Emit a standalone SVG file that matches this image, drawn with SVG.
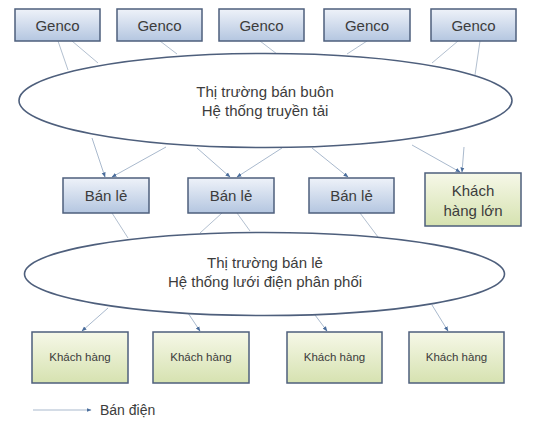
<svg xmlns="http://www.w3.org/2000/svg" width="535" height="423" viewBox="0 0 535 423">
<defs>
<linearGradient id="gb" x1="0" y1="0" x2="0" y2="1">
<stop offset="0" stop-color="#eef2f9"/>
<stop offset="1" stop-color="#b4c6e0"/>
</linearGradient>
<linearGradient id="gg" x1="0" y1="0" x2="0" y2="1">
<stop offset="0" stop-color="#f6f8e8"/>
<stop offset="1" stop-color="#d6e2b0"/>
</linearGradient>
<marker id="ah" viewBox="0 0 10 10" refX="9" refY="5" markerWidth="5" markerHeight="5" orient="auto" markerUnits="userSpaceOnUse">
<path d="M0,1 L10,5 L0,9 z" fill="#4a6d9c"/>
</marker>
</defs>
<style>
.b{fill:url(#gb);stroke:#4e5f7c;stroke-width:1.5}
.g{fill:url(#gg);stroke:#4e5f7c;stroke-width:1.5}
.e{fill:#fff;stroke:#4e5f7c;stroke-width:1.6}
.c{fill:none;stroke:#b3c0d0;stroke-width:1}
.a{fill:none;stroke:#a9b9cd;stroke-width:1;marker-end:url(#ah)}
text{font-family:"Liberation Sans",Arial,sans-serif;fill:#3c3c3c;text-anchor:middle}
.t15{font-size:15px}
.t14{font-size:15px}
.t11{font-size:11.5px}
</style>
<rect width="535" height="423" fill="#fff"/>
<g id="connectors">
<line class="c" x1="58" y1="41" x2="68" y2="70"/>
<line class="c" x1="72" y1="41" x2="98" y2="63"/>
<line class="c" x1="160" y1="41" x2="177" y2="54"/>
<line class="c" x1="260" y1="41" x2="277" y2="54"/>
<line class="c" x1="367" y1="41" x2="347" y2="54"/>
<line class="c" x1="458" y1="41" x2="432" y2="63"/>
<line class="c" x1="480" y1="41" x2="475" y2="75"/>
<line class="a" x1="92" y1="138" x2="105" y2="177"/>
<line class="a" x1="166" y1="147" x2="112" y2="177"/>
<line class="a" x1="197" y1="148" x2="230" y2="177"/>
<line class="a" x1="282" y1="148" x2="237" y2="177"/>
<line class="a" x1="312" y1="148" x2="348" y2="177"/>
<line class="a" x1="412" y1="145" x2="460" y2="172"/>
<line class="a" x1="464" y1="147" x2="462" y2="172"/>
<line class="c" x1="112" y1="213" x2="128" y2="238"/>
<line class="c" x1="222" y1="213" x2="200" y2="233"/>
<line class="c" x1="237" y1="213" x2="250" y2="231"/>
<line class="c" x1="360" y1="213" x2="378" y2="237"/>
<line class="a" x1="108" y1="308" x2="82" y2="331"/>
<line class="a" x1="188" y1="313" x2="200" y2="331"/>
<line class="a" x1="315" y1="315" x2="327" y2="331"/>
<line class="a" x1="432" y1="305" x2="448" y2="331"/>
<line class="a" x1="33" y1="410" x2="91" y2="410"/>
</g>
<g id="genco1"><rect class="b" x="15" y="9" width="85" height="32"/><text class="t15" x="57.5" y="30.5">Genco</text></g>
<g id="genco2"><rect class="b" x="117" y="9" width="85" height="32"/><text class="t15" x="159.5" y="30.5">Genco</text></g>
<g id="genco3"><rect class="b" x="219" y="9" width="85" height="32"/><text class="t15" x="261.5" y="30.5">Genco</text></g>
<g id="genco4"><rect class="b" x="324" y="9" width="86" height="32"/><text class="t15" x="367" y="30.5">Genco</text></g>
<g id="genco5"><rect class="b" x="431" y="9" width="85" height="32"/><text class="t15" x="473.5" y="30.5">Genco</text></g>
<g id="wholesale"><ellipse class="e" cx="265.5" cy="100.5" rx="246.5" ry="47"/><text class="t14" x="265" y="97">Thị trường bán buôn</text><text class="t14" x="265" y="115.5">Hệ thống truyền tải</text></g>
<g id="banle1"><rect class="b" x="63" y="178" width="86" height="35"/><text class="t14" x="106" y="201">Bán lẻ</text></g>
<g id="banle2"><rect class="b" x="188" y="178" width="86" height="35"/><text class="t14" x="231" y="201">Bán lẻ</text></g>
<g id="banle3"><rect class="b" x="309" y="178" width="85" height="35"/><text class="t14" x="351.5" y="201">Bán lẻ</text></g>
<g id="khachhanglon"><rect class="g" x="425" y="173" width="96" height="53"/><text class="t14" x="473" y="196">Khách</text><text class="t14" x="473" y="216">hàng lớn</text></g>
<g id="retail"><ellipse class="e" cx="264.5" cy="274" rx="240" ry="41.5"/><text class="t14" x="265" y="268">Thị trường bán lẻ</text><text class="t14" x="265" y="287">Hệ thống lưới điện phân phối</text></g>
<g id="kh1"><rect class="g" x="32" y="332" width="96" height="51"/><text class="t11" x="80" y="361">Khách hàng</text></g>
<g id="kh2"><rect class="g" x="153" y="332" width="96" height="51"/><text class="t11" x="201" y="361">Khách hàng</text></g>
<g id="kh3"><rect class="g" x="287" y="332" width="95" height="51"/><text class="t11" x="334.5" y="361">Khách hàng</text></g>
<g id="kh4"><rect class="g" x="409" y="332" width="95" height="51"/><text class="t11" x="456.5" y="361">Khách hàng</text></g>
<g id="legend"><text x="100" y="415" style="text-anchor:start;font-size:14px">Bán điện</text></g>
</svg>
